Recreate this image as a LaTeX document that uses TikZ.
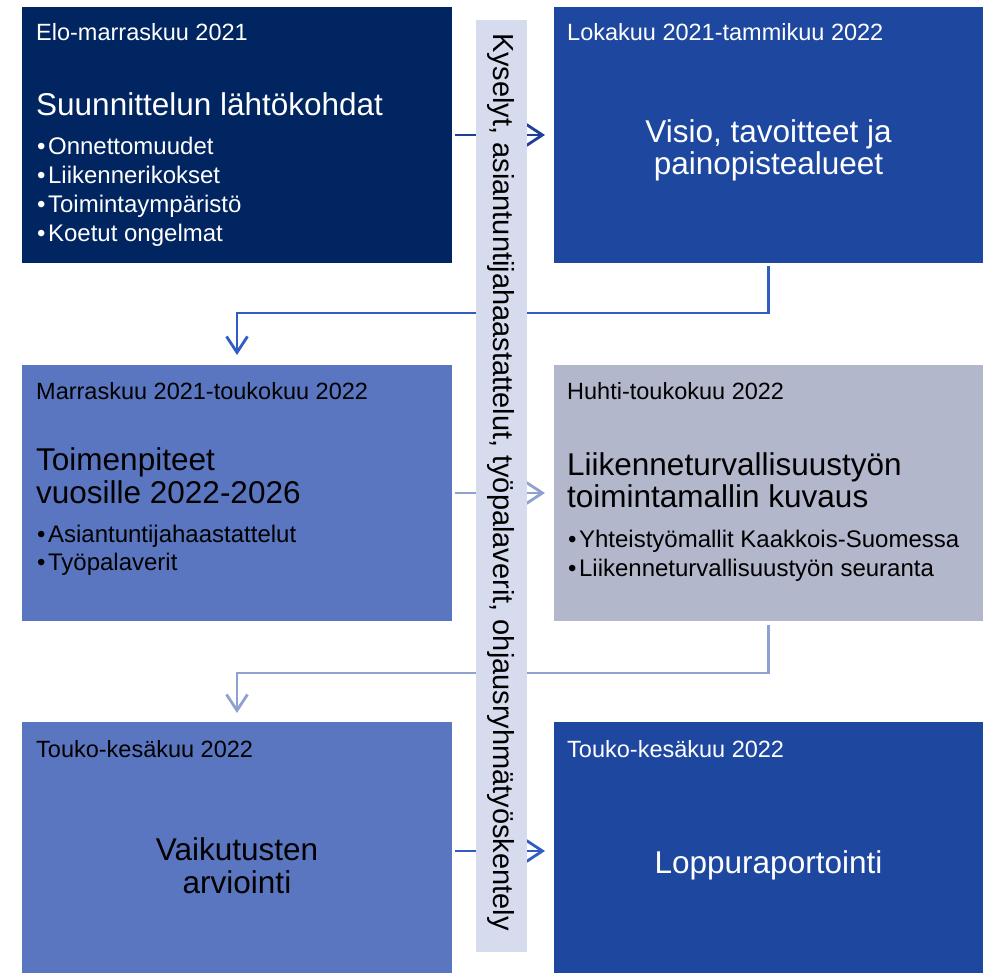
\documentclass[tikz,border=0pt]{standalone}
\usepackage{fontspec}
\setmainfont{Liberation Sans}
\usetikzlibrary{arrows.meta}

\definecolor{navy}{RGB}{0,37,96}
\definecolor{royal}{RGB}{30,72,160}
\definecolor{steel}{RGB}{91,118,192}
\definecolor{greyblue}{RGB}{179,183,203}
\definecolor{bandcol}{RGB}{214,220,238}
\definecolor{arrdark}{RGB}{31,64,148}
\definecolor{arrmid}{RGB}{48,92,196}
\definecolor{arrlight}{RGB}{143,161,208}

\newcommand{\bul}[1]{•\kern2.5pt#1}

\begin{document}
\begin{tikzpicture}[x=1pt,y=-1pt,
    phase/.style={anchor=north west, minimum width=430pt, minimum height=256pt, inner sep=0pt, outer sep=0pt},
    date/.style={anchor=base west, inner sep=0pt, font=\fontsize{23.5}{28}\selectfont},
    title/.style={inner sep=0pt, font=\fontsize{31.5}{36}\selectfont},
    item/.style={anchor=base west, inner sep=0pt, font=\fontsize{24}{29}\selectfont},
    flow/.style={line width=2.8pt, -{Straight Barb[length=16pt,width=21pt]}}]
    \useasboundingbox (0,0) rectangle (990,973); % page size

    % phase boxes
    \node[phase, fill=navy] (lahto) at (22,7) {};
    \node[phase, fill=royal, minimum width=429pt] (visio) at (554,7) {};
    \node[phase, fill=steel] (toimet) at (22,365) {};
    \node[phase, fill=greyblue, minimum width=429pt] (malli) at (554,365) {};
    \node[phase, fill=steel, minimum height=258pt] (vaikutus) at (22,722) {};
    \node[phase, fill=royal, minimum width=429pt, minimum height=258pt] (loppu) at (554,722) {};

    % connectors, the band is drawn over them
    \draw[flow, arrdark] ([xshift=3pt]lahto.east) -- ([xshift=-9pt]visio.west); % row 1
    \draw[flow, arrmid] ([yshift=-3pt]visio.south) -- +(0,47) -| ([yshift=10pt]toimet.north); % down to row 2
    \draw[flow, arrlight] ([xshift=3pt]toimet.east) -- ([xshift=-9pt]malli.west); % row 2
    \draw[flow, arrlight] ([yshift=-4pt]malli.south) -- +(0,48) -| ([yshift=9pt]vaikutus.north); % down to row 3
    \draw[flow, arrmid] ([xshift=3pt]vaikutus.east) -- ([xshift=-9pt]loppu.west); % row 3

    % vertical band
    \node[anchor=north west, fill=bandcol, minimum width=51pt, minimum height=932pt, inner sep=0pt] (band) at (476,20) {};
    \node[rotate=-90, inner sep=0pt, font=\fontsize{29}{34}\selectfont] (bandtxt) at (501,482)
        {Kyselyt, asiantuntijahaastattelut, työpalaverit, ohjausryhmätyöskentely};

    % box 1
    \node[date, white] (lahtodate) at (36,40.5) {Elo-marraskuu 2021};
    \node[title, white, anchor=base west] (lahtotitle) at (36,116) {Suunnittelun lähtökohdat};
    \node[item, white] (lahto1) at (37,155) {\bul{Onnettomuudet}};
    \node[item, white] (lahto2) at (37,184) {\bul{Liikennerikokset}};
    \node[item, white] (lahto3) at (37,213) {\bul{Toimintaympäristö}};
    \node[item, white] (lahto4) at (37,242) {\bul{Koetut ongelmat}};

    % box 2
    \node[date, white] (visiodate) at (567,40.5) {Lokakuu 2021-tammikuu 2022};
    \node[title, white, anchor=base] (visio1) at (768.5,143) {Visio, tavoitteet ja};
    \node[title, white, anchor=base] (visio2) at (768.5,175) {painopistealueet};

    % box 3
    \node[date] (toimetdate) at (36,399) {Marraskuu 2021-toukokuu 2022};
    \node[title, anchor=base west] (toimet1) at (36,470) {Toimenpiteet};
    \node[title, anchor=base west] (toimet2) at (36,503) {vuosille 2022-2026};
    \node[item] (toimeti1) at (37,542) {\bul{Asiantuntijahaastattelut}};
    \node[item] (toimeti2) at (37,570) {\bul{Työpalaverit}};

    % box 4
    \node[date] (mallidate) at (567,399) {Huhti-toukokuu 2022};
    \node[title, anchor=base west] (malli1) at (567,475) {Liikenneturvallisuustyön};
    \node[title, anchor=base west] (malli2) at (567,507) {toimintamallin kuvaus};
    \node[item] (mallii1) at (568,547) {\bul{Yhteistyömallit Kaakkois-Suomessa}};
    \node[item] (mallii2) at (568,576) {\bul{Liikenneturvallisuustyön seuranta}};

    % box 5
    \node[date] (vaikdate) at (36,757) {Touko-kesäkuu 2022};
    \node[title, anchor=base] (vaik1) at (237,860) {Vaikutusten};
    \node[title, anchor=base] (vaik2) at (237,893) {arviointi};

    % box 6
    \node[date, white] (loppudate) at (567,757) {Touko-kesäkuu 2022};
    \node[title, white, anchor=base] (loppu1) at (768.5,873) {Loppuraportointi};
\end{tikzpicture}
\end{document}
